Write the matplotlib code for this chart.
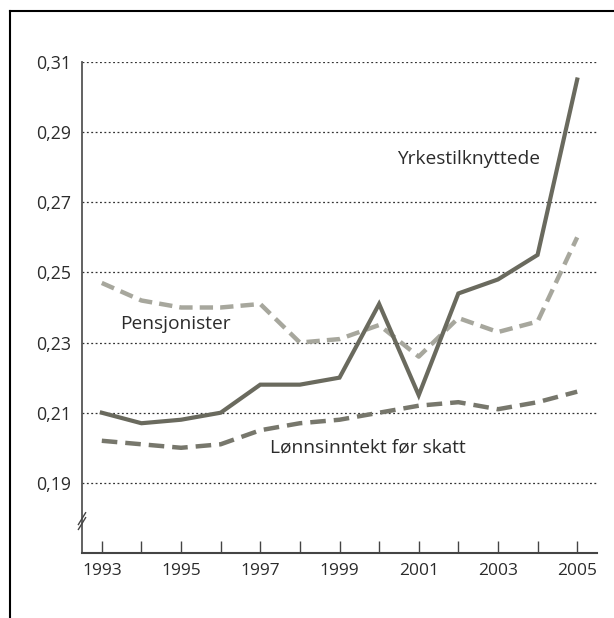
import matplotlib
matplotlib.use("Agg")
import matplotlib.pyplot as plt
from matplotlib.lines import Line2D

plt.rcParams["font.family"] = ["Open Sans", "DejaVu Sans"]

years = list(range(1993, 2006))
yrkes = [0.210, 0.207, 0.208, 0.210, 0.218, 0.218, 0.220, 0.241, 0.215, 0.244, 0.248, 0.255, 0.305]
pensjon = [0.247, 0.242, 0.240, 0.240, 0.241, 0.230, 0.231, 0.235, 0.226, 0.237, 0.233, 0.236, 0.260]
lonn = [0.202, 0.201, 0.200, 0.201, 0.205, 0.207, 0.208, 0.210, 0.212, 0.213, 0.211, 0.213, 0.216]
yticks = [0.19, 0.21, 0.23, 0.25, 0.27, 0.29, 0.31]
xlabels = [1993, 1995, 1997, 1999, 2001, 2003, 2005]

text_col = "#2b2b2b"

fig = plt.figure(figsize=(6.14, 6.18), dpi=100)
ax = fig.add_axes([82 / 614, 1 - 553 / 618, 515 / 614, 491 / 618])

# frame around figure (top and left only)
fig.add_artist(Line2D([10 / 614, 1], [1 - 11 / 618] * 2, color="black", lw=1.5))
fig.add_artist(Line2D([10 / 614] * 2, [0, 1 - 11 / 618], color="black", lw=1.5))

for y in yticks:
    ax.axhline(y, color="#333333", lw=0.9, ls=(0, (1.5, 2)), zorder=1)

ax.plot(years, pensjon, color="#a7a79d", lw=3.2, ls=(0, (3, 1.6)), zorder=3)
ax.plot(years, lonn, color="#77776c", lw=3.2, ls=(0, (3.5, 1.8)), zorder=3)
ax.plot(years, yrkes, color="#6a6a5e", lw=3.0, zorder=4, solid_joinstyle="miter")

ax.set_xlim(1992.5, 2005.5)
ax.set_ylim(0.17, 0.31)
ax.set_xticks(years)
ax.set_xticklabels([str(y) if y in xlabels else "" for y in years])
ax.set_yticks(yticks)
ax.set_yticklabels([f"{y:.2f}".replace(".", ",") for y in yticks])
ax.tick_params(axis="x", direction="in", length=8.5, width=1, color="#444444",
               labelsize=12.5, labelcolor=text_col, pad=7)
ax.tick_params(axis="y", length=0, labelsize=12.8, labelcolor=text_col, pad=8)

for s in ["top", "right"]:
    ax.spines[s].set_visible(False)
ax.spines["left"].set_color("#555555")
ax.spines["left"].set_linewidth(1.3)
ax.spines["bottom"].set_color("#444444")
ax.spines["bottom"].set_linewidth(1.5)

# axis break marker
for dy in (-0.005, 0.005):
    ax.plot([-0.007, 0.007], [0.065 + dy - 0.012, 0.065 + dy + 0.012], transform=ax.transAxes,
            color="#444444", lw=1, clip_on=False, zorder=5)

ax.text(2000.45, 0.2823, "Yrkestilknyttede", fontsize=13.8, color=text_col, ha="left", va="center")
ax.text(1993.45, 0.2354, "Pensjonister", fontsize=13.8, color=text_col, ha="left", va="center")
ax.text(1997.25, 0.2000, "Lønnsinntekt før skatt", fontsize=13.8, color=text_col, ha="left", va="center")

fig.savefig("out.png", dpi=100)
